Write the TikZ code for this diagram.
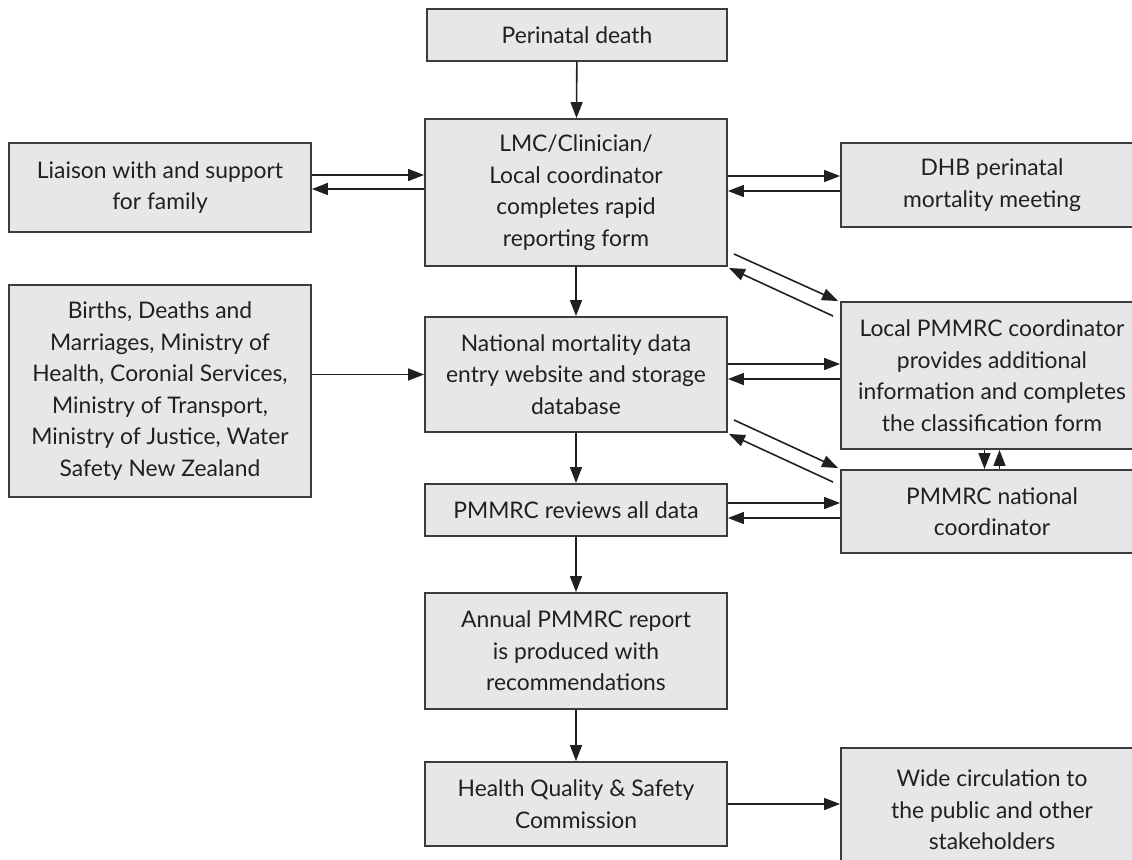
\documentclass[tikz,border=0pt]{standalone}
\usepackage{fontspec}
\setmainfont{Lato}
\usepackage{tikz}
\usetikzlibrary{arrows.meta,calc}
\definecolor{boxfill}{RGB}{230,231,232}
\definecolor{boxline}{RGB}{60,60,60}
\definecolor{ink}{RGB}{35,31,32}
\tikzset{
  box/.style={draw=boxline, fill=boxfill, line width=1.1pt, align=center,
    text=ink, minimum width=6.04cm, inner sep=2pt,
    font=\fontsize{13}{18}\selectfont},
  arr/.style={draw=ink, line width=0.9pt, -{Triangle[length=0.32cm,width=0.24cm]}},
}

\begin{document}
\begin{tikzpicture}[x=0.02cm, y=-0.02cm]
      \useasboundingbox (0,0) rectangle (1132,859);
      \clip (0,0) rectangle (1132,859);

      % centre column
      \node[box, minimum width=6cm, minimum height=1.04cm] at (577,35) (death) {Perinatal death};
      \node[box, minimum height=2.94cm] at (576,192.5) (lmc) {LMC/Clinician/\\Local coordinator\\completes rapid\\reporting form};
      \node[box, minimum height=2.3cm] at (576,374.5) (database) {National mortality data\\entry website and storage\\database};
      \node[box, minimum height=1.04cm] at (576,510) (review) {PMMRC reviews all data};
      \node[box, minimum height=2.32cm] at (576,651) (annual) {Annual PMMRC report\\is produced with\\recommendations};
      \node[box, minimum height=1.68cm] at (576,804) (hqsc) {Health Quality \& Safety\\Commission};

      % left column
      \node[box, minimum height=1.78cm] at (160,187.5) (family) {Liaison with and support\\for family};
      \node[box, minimum height=4.24cm] at (160,391) (sources) {Births, Deaths and\\Marriages, Ministry of\\Health, Coronial Services,\\Ministry of Transport,\\Ministry of Justice, Water\\Safety New Zealand};

      % right column
      \node[box, minimum height=1.68cm] at (992,185) (dhb) {DHB perinatal\\mortality meeting};
      \node[box, minimum height=2.94cm] at (992,375.5) (local) {Local PMMRC coordinator\\provides additional\\information and completes\\the classification form};
      \node[box, minimum height=1.66cm] at (992,511.5) (national) {PMMRC national\\coordinator};
      \node[box, minimum height=2.48cm] at (992,810) (wide) {Wide circulation to\\the public and other\\stakeholders};

      \draw[arr] (death) -- (lmc);
      \draw[arr] (lmc) -- (database);
      \draw[arr] (database) -- (review);
      \draw[arr] (review) -- (annual);
      \draw[arr] (annual) -- (hqsc);
      \draw[arr] (hqsc.east) -- (hqsc.east -| wide.west);

      \draw[arr] ($(family.east)+(0,-12.5)$) -- ($(family.east -| lmc.west)+(0,-12.5)$);
      \draw[arr] ($(family.east -| lmc.west)+(0,1.5)$) -- ($(family.east)+(0,1.5)$);
      \draw[arr] ($(lmc.east |- dhb.west)+(0,-9)$) -- ($(dhb.west)+(0,-9)$);
      \draw[arr] ($(dhb.west)+(0,6)$) -- ($(lmc.east |- dhb.west)+(0,6)$);

      \draw[arr] (sources.east |- database.west) -- (database.west);
      \draw[arr] ($(database.east)+(0,-10.5)$) -- ($(database.east -| local.west)+(0,-10.5)$);
      \draw[arr] ($(database.east -| local.west)+(0,4.5)$) -- ($(database.east)+(0,4.5)$);
      \draw[arr] ($(review.east)+(0,-7)$) -- ($(review.east -| national.west)+(0,-7)$);
      \draw[arr] ($(review.east -| national.west)+(0,8)$) -- ($(review.east)+(0,8)$);

      \draw[arr] ($(lmc.south east)+(6,-13)$) -- ($(local.north west)+(-2,0)$);
      \draw[arr] ($(local.north west)+(-7,15)$) -- ($(lmc.south east)+(1,1)$);
      \draw[arr] ($(database.south east)+(6,-13)$) -- ($(national.north west)+(-2,-1)$);
      \draw[arr] ($(national.north west)+(-7,13)$) -- ($(database.south east)+(1,1)$);

      \draw[arr] ([xshift=-0.15cm]local.south) -- ([xshift=-0.15cm]national.north);
      \draw[arr] ([xshift=0.15cm]national.north) -- ([xshift=0.15cm]local.south);
    \end{tikzpicture}
\end{document}
